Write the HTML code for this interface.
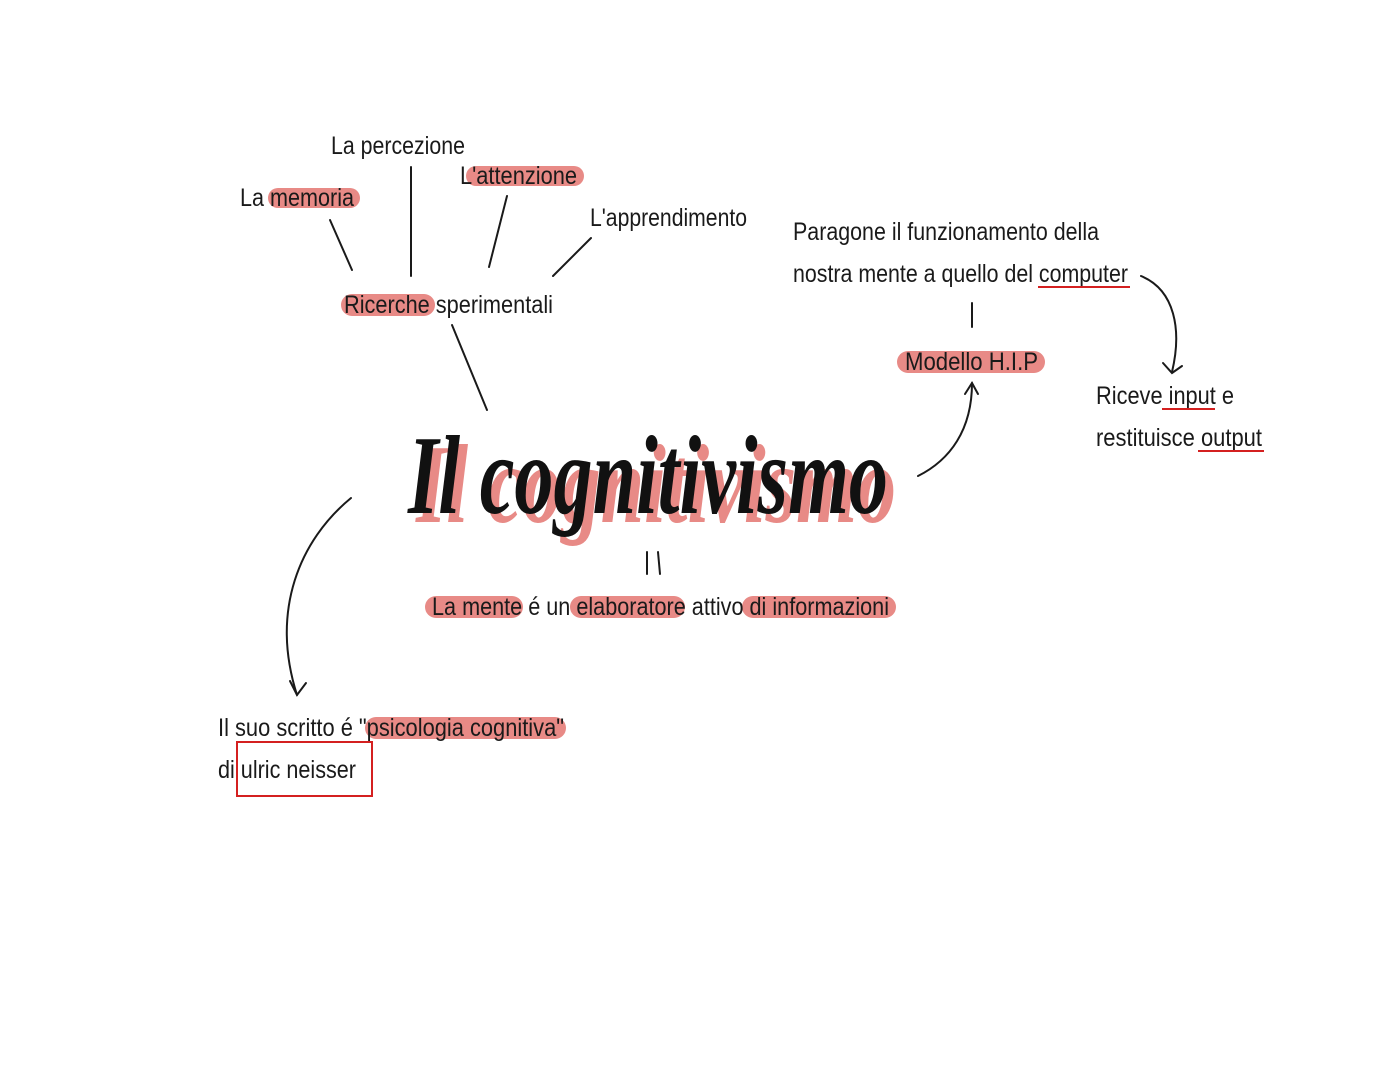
<!DOCTYPE html>
<html><head><meta charset="utf-8"><style>
html,body{margin:0;padding:0;background:#fff;}
svg{display:block}
text{font-family:"Liberation Sans",sans-serif;fill:#1a1a1a;}
text.t{font-family:"Liberation Serif",serif;font-weight:bold;font-style:italic;}
</style></head><body>
<svg width="1394" height="1080" viewBox="0 0 1394 1080" xmlns="http://www.w3.org/2000/svg">
<g fill="#e88a86">
<rect x="268" y="188" width="92" height="20" rx="10"/>
<rect x="466" y="166" width="118" height="20" rx="10"/>
<rect x="341" y="294" width="94" height="22" rx="11"/>
<rect x="897" y="351" width="148" height="22" rx="11"/>
<rect x="425" y="596" width="98" height="22" rx="11"/>
<rect x="570" y="596" width="115" height="22" rx="11"/>
<rect x="742" y="596" width="154" height="22" rx="11"/>
<rect x="365" y="717" width="201" height="22" rx="11"/>
</g>
<g font-size="25">
<text x="331" y="154" textLength="134" lengthAdjust="spacingAndGlyphs">La percezione</text>
<text x="460" y="184" textLength="117" lengthAdjust="spacingAndGlyphs">L'attenzione</text>
<text x="240" y="206" textLength="114" lengthAdjust="spacingAndGlyphs">La memoria</text>
<text x="590" y="226" textLength="157" lengthAdjust="spacingAndGlyphs">L'apprendimento</text>
<text x="344" y="313" textLength="209" lengthAdjust="spacingAndGlyphs">Ricerche sperimentali</text>
<text x="793" y="240" textLength="306" lengthAdjust="spacingAndGlyphs">Paragone il funzionamento della</text>
<text x="793" y="282" textLength="335" lengthAdjust="spacingAndGlyphs">nostra mente a quello del computer</text>
<text x="905" y="370" textLength="133" lengthAdjust="spacingAndGlyphs">Modello H.I.P</text>
<text x="1096" y="404" textLength="138" lengthAdjust="spacingAndGlyphs">Riceve input e</text>
<text x="1096" y="446" textLength="166" lengthAdjust="spacingAndGlyphs">restituisce output</text>
<text x="432" y="615" textLength="457" lengthAdjust="spacingAndGlyphs">La mente é un elaboratore attivo di informazioni</text>
<text x="218" y="736" textLength="346" lengthAdjust="spacingAndGlyphs">Il suo scritto é "psicologia cognitiva"</text>
<text x="218" y="778" textLength="138" lengthAdjust="spacingAndGlyphs">di ulric neisser</text>
</g>
<text class="t" x="416" y="522" font-size="112" style="fill:#e88a86" textLength="480" lengthAdjust="spacingAndGlyphs">Il cognitivismo</text>
<text class="t" x="408" y="513" font-size="112" style="fill:#111" textLength="480" lengthAdjust="spacingAndGlyphs">Il cognitivismo</text>
<g stroke="#1a1a1a" stroke-width="2" fill="none" stroke-linecap="round">
<line x1="330" y1="220" x2="352" y2="270"/>
<line x1="411" y1="167" x2="411" y2="276"/>
<line x1="507" y1="196" x2="489" y2="267"/>
<line x1="591" y1="238" x2="553" y2="276"/>
<line x1="452" y1="325" x2="487" y2="410"/>
<line x1="972" y1="303" x2="972" y2="327"/>
<line x1="647" y1="552" x2="647" y2="574"/>
<line x1="658" y1="552" x2="660" y2="574"/>
<path d="M918 476 C950 460 972 430 972 383"/>
<path d="M965 394 L972 383 L978 394"/>
<path d="M1141 276 C1175 290 1182 330 1172 372"/>
<path d="M1163 363 L1172 373 L1182 366"/>
<path d="M351 498 C300 540 270 610 297 695"/>
<path d="M290 681 L297 695 L306 683"/>
</g>
<g stroke="#d42020" stroke-width="2" fill="none">
<line x1="1038" y1="287" x2="1130" y2="287"/>
<line x1="1162" y1="409" x2="1215" y2="409"/>
<line x1="1198" y1="451" x2="1264" y2="451"/>
<rect x="237" y="742" width="135" height="54"/>
</g>
</svg>
</body></html>
